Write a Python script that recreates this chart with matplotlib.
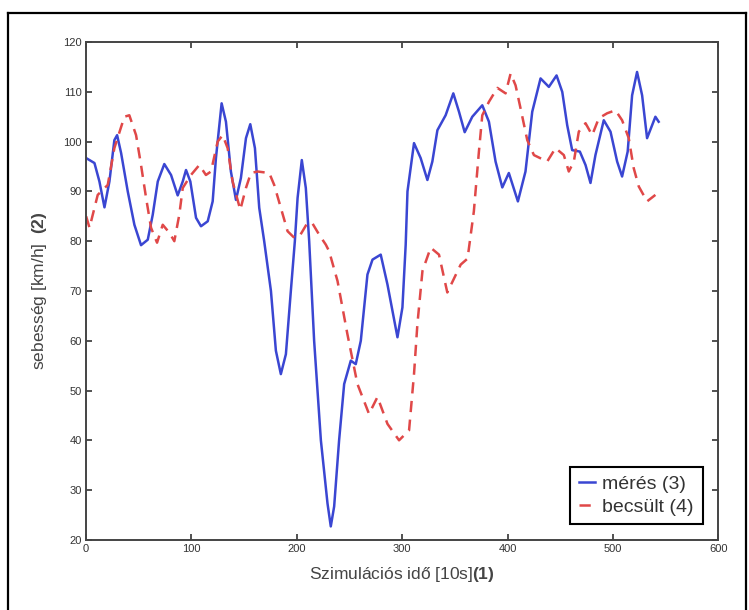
import matplotlib
matplotlib.use("Agg")
import matplotlib.pyplot as plt
from matplotlib.lines import Line2D

meres_t = [0, 7.9, 12.6, 17.4, 22.1, 26.8, 29.4, 33.2, 39.5, 45.8, 52.1, 58.5, 63.2, 68,
           74.2, 80.6, 86.9, 91.7, 94.8, 98.9, 104.3, 109, 115.4, 120.1, 123.2, 128.6,
           132.7, 137.4, 142.2, 146.9, 151.7, 155.8, 160.2, 164.3, 169, 175.4, 180.1,
           184.8, 189.6, 194.3, 198.1, 200.7, 204.7, 208.5, 211.7, 216.4, 222.8, 229.1,
           232.2, 235.4, 240.1, 244.9, 251.2, 255.9, 260.7, 267, 271.8, 279.6, 286,
           295.5, 300.2, 303.3, 305, 311.2, 317.5, 323.9, 328.6, 333.4, 341.2, 348.5,
           353.9, 359.3, 366.5, 376, 382.3, 388.6, 395, 401.2, 409.8, 417, 423.4, 431.3,
           439.2, 446.5, 451.9, 456.6, 461.3, 468.6, 474, 478.7, 483.4, 491.3, 497.7,
           504, 508.7, 514, 518.2, 522.9, 527.7, 532.4, 537.2, 540.3, 543.4]
meres_v = [96.7, 95.7, 92, 86.8, 92, 100.3, 101.3, 97.7, 90, 83.3, 79.2, 80.3, 85.3, 92,
           95.5, 93.3, 89.2, 92, 94.3, 92, 84.7, 83, 84, 88, 96.7, 107.7,
           104, 94, 88.3, 92.7, 100.7, 103.5, 98.7, 86.7, 80, 70, 58,
           53.3, 57.3, 70, 80, 88.7, 96.3, 90.7, 80, 60, 40, 27.3,
           22.7, 26.7, 40, 51.3, 56, 55.3, 60, 73.3, 76.3, 77.3, 71.3,
           60.7, 66.7, 79.3, 90, 99.7, 96.7, 92.3, 96, 102.3, 105.3, 109.7,
           106, 101.9, 105, 107.3, 104, 96, 90.8, 93.7, 88, 94, 106, 112.7,
           111, 113.3, 110, 103.3, 98.3, 98, 95.3, 91.7, 97.3, 104.3, 102,
           96, 93, 98, 109.3, 114, 109.3, 100.7, 103.3, 105, 104]

# estimated speed (becsült)
becsult_t = [0, 3.2, 11, 20.5, 26.8, 36.3, 41, 47.4, 52.1, 56.9, 61.6, 67.3, 72.7, 79,
             83.7, 88.4, 91.7, 99.5, 107.4, 113.7, 118.5, 124.8, 129.6, 134.3, 139,
             146.3, 151.7, 156.4, 162.7, 173.8, 178.5, 184.8, 191.2, 197.5, 203.1,
             210.1, 215, 221.2, 227.5, 230.6, 238.6, 248, 257.5, 268.5, 276.5, 286, 297,
             306.5, 311.2, 314.4, 319.2, 327, 334.9, 342.8, 355.5, 362, 368, 372.8, 376,
             382.3, 390.3, 398.1, 402.9, 407.6, 412.3, 418.7, 425, 437.6, 445.5, 453.4,
             458.1, 462.9, 467.6, 474, 480.3, 486.6, 494.5, 502.4, 508.7, 515, 519.7,
             524.5, 532.4, 540.3]
becsult_v = [85, 82.7, 89.3, 91.3, 98.7, 105, 105.3, 101.3, 95.3, 88.7, 82.7, 79.7, 83.3,
             81.7, 80, 85.3, 90.7, 93.3, 95.3, 93.3, 94, 100, 101.3, 98.7, 92,
             86.3, 90.7, 93.7, 94, 93.7, 91.3, 86.7, 82, 80.7, 81.2,
             83.7, 83.5, 81.3, 79.3, 78, 72, 61.3, 51.3, 45.3, 48.7, 43.3, 40,
             42, 53.3, 63.3, 74, 78.7, 77.3, 69.7, 75.3, 76.5, 86, 98, 105.3,
             108, 110.8, 109.7, 113.7, 111.3, 106.7, 100.3, 97.3, 96, 98.7, 97.3,
             94, 96, 102, 103.7, 101.3, 104.7, 105.7, 106.3, 104.3, 100.7, 94.7,
             91, 88, 89.3]

x_ticks = [0, 100, 200, 300, 400, 500, 600]
y_ticks = [20, 30, 40, 50, 60, 70, 80, 90, 100, 110, 120]

plt.rcParams['font.family'] = ['Liberation Sans', 'DejaVu Sans']
plt.rcParams['mathtext.fontset'] = 'custom'
plt.rcParams['mathtext.rm'] = 'Liberation Sans'
plt.rcParams['mathtext.bf'] = 'Liberation Sans:bold'

fig = plt.figure(figsize=(7.49, 6.10), dpi=100)
ax = fig.add_axes([0.115, 0.115, 0.844, 0.816])

ax.plot(meres_t, meres_v, color='#3a46d2', lw=1.8, label='mérés (3)')
ax.plot(becsult_t, becsult_v, color='#e04848', lw=1.8, dashes=(4.5, 3),
        label='becsült (4)')

ax.set_xlim(0, 600)
ax.set_ylim(20, 120)
ax.set_xticks(x_ticks)
ax.set_yticks(y_ticks)
ax.tick_params(direction='in', top=True, right=True, length=4, width=1.2,
               labelsize=8, colors='#333333', pad=3)
for sp in ax.spines.values():
    sp.set_color('#444444')
    sp.set_linewidth(1.4)

ax.set_xlabel('Szimulációs idő [10s]$\\mathbf{(1)}$', fontsize=12.5,
              color='#444444', labelpad=8)
ax.set_ylabel('sebesség [km/h]  $\\mathbf{(2)}$', fontsize=12.5,
              color='#444444', labelpad=10)

leg = ax.legend(loc='lower right', fontsize=14, handlelength=0.8,
                handletextpad=0.4, fancybox=False, framealpha=1,
                borderaxespad=0.8, labelspacing=0.25, borderpad=0.45)
leg.get_frame().set_edgecolor('black')
leg.get_frame().set_linewidth(1.5)
for t in leg.get_texts():
    t.set_color('#333333')

# outer frame around the picture (bottom edge is cut off)
W, H = 749, 610
fx0, fx1, fy1 = 8 / W, 746 / W, 1 - 13 / H
for xs, ys in [([fx0, fx0], [0, fy1]), ([fx0, fx1], [fy1, fy1]), ([fx1, fx1], [fy1, 0])]:
    fig.add_artist(Line2D(xs, ys, transform=fig.transFigure, color='black', lw=1.6))

fig.savefig('out.png', dpi=100)
